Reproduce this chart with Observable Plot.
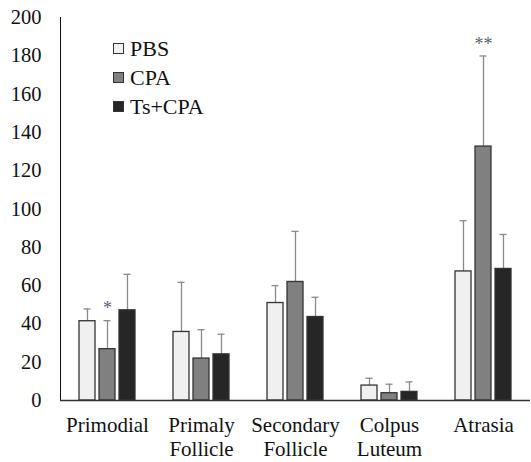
<!DOCTYPE html>
<html>
<head>
<meta charset="utf-8">
<script src="https://cdn.jsdelivr.net/npm/d3@7"></script>
<script src="https://cdn.jsdelivr.net/npm/@observablehq/plot@0.6"></script>
<style>
  html, body { margin: 0; padding: 0; background: #fff; }
  #wrap { position: relative; width: 531px; height: 462px; font-family: "Liberation Serif", "Times New Roman", Times, serif; }
  #legend { position: absolute; left: 113px; top: 34px; font-size: 22px; color: #111; }
  #legend .row { display: flex; align-items: center; height: 29px; }
  #legend .sw { width: 9px; height: 9px; border: 1px solid #333; margin-right: 6px; }
</style>
</head>
<body>
<div id="wrap"><div id="legend"></div></div>
<script>
const categories = ["Primodial", "Primaly\nFollicle", "Secondary\nFollicle", "Colpus\nLuteum", "Atrasia"];
const groups = ["PBS", "CPA", "Ts+CPA"];
const fills = ["#f0f0f0", "#808080", "#262626"];
const pbsMean = [41.4, 35.8, 50.9, 7.8, 67.4];
const pbsErr  = [6.4, 25.9, 9.1, 3.8, 26.5];
const cpaMean = [26.8, 21.9, 61.9, 3.8, 132.6];
const cpaErr  = [14.9, 15.1, 26.4, 4.7, 47.3];
const tsMean  = [47.1, 24.1, 43.6, 4.5, 68.7];
const tsErr   = [18.8, 10.5, 10.3, 5.2, 18.0];
const sigLabels = ["*", "", "", "", "**"]; // marks on CPA bars
const yTicks = [0, 20, 40, 60, 80, 100, 120, 140, 160, 180, 200];

const means = [pbsMean, cpaMean, tsMean];
const errs = [pbsErr, cpaErr, tsErr];
const data = [];
categories.forEach((c, i) => groups.forEach((g, j) => {
  data.push({cat: c, group: g, mean: means[j][i], upper: means[j][i] + errs[j][i]});
}));
const sig = categories.map((c, i) => ({cat: c, group: "CPA", label: sigLabels[i], y: cpaMean[i] + cpaErr[i]})).filter(d => d.label);

const chart = Plot.plot({
  width: 531,
  height: 462,
  marginLeft: 59,
  marginRight: 0,
  marginTop: 17,
  marginBottom: 62,
  style: "font-family: 'Liberation Serif', 'Times New Roman', serif; font-size: 20.5px; color: #111; background: #fff;",
  fx: {domain: categories, padding: 0, label: null},
  x: {domain: groups, paddingInner: 0.19, paddingOuter: 0.84, axis: null},
  y: {domain: [0, 200], ticks: yTicks, tickSize: 0, tickPadding: 19, label: null, line: true},
  color: {domain: groups, range: fills},
  marks: [
    Plot.ruleX(data, {fx: "cat", x: "group", y1: "mean", y2: "upper", stroke: "#8a8a8a", strokeWidth: 1.3}),
    Plot.tickY(data, {fx: "cat", x: "group", y: "upper", stroke: "#8a8a8a", strokeWidth: 1.3, insetLeft: 4.5, insetRight: 4.5}),
    Plot.barY(data, {fx: "cat", x: "group", y: "mean", fill: "group", stroke: "#333", strokeWidth: 1.3}),
    Plot.ruleY([0], {stroke: "#333", strokeWidth: 1.3}),
    Plot.text(sig, {fx: "cat", x: "group", y: "y", text: "label", dy: -12, fontSize: 18, fill: "#5a6070", lineAnchor: "middle"}),
    Plot.axisFx({anchor: "bottom", tickSize: 0, tickPadding: 14, fontSize: 21, lineHeight: 1.15, label: null})
  ]
});
document.getElementById("wrap").prepend(chart);

const legend = document.getElementById("legend");
groups.forEach((g, j) => {
  const row = document.createElement("div");
  row.className = "row";
  const sw = document.createElement("div");
  sw.className = "sw";
  sw.style.background = fills[j];
  const t = document.createElement("span");
  t.textContent = g;
  row.appendChild(sw);
  row.appendChild(t);
  legend.appendChild(row);
});
</script>
</body>
</html>
